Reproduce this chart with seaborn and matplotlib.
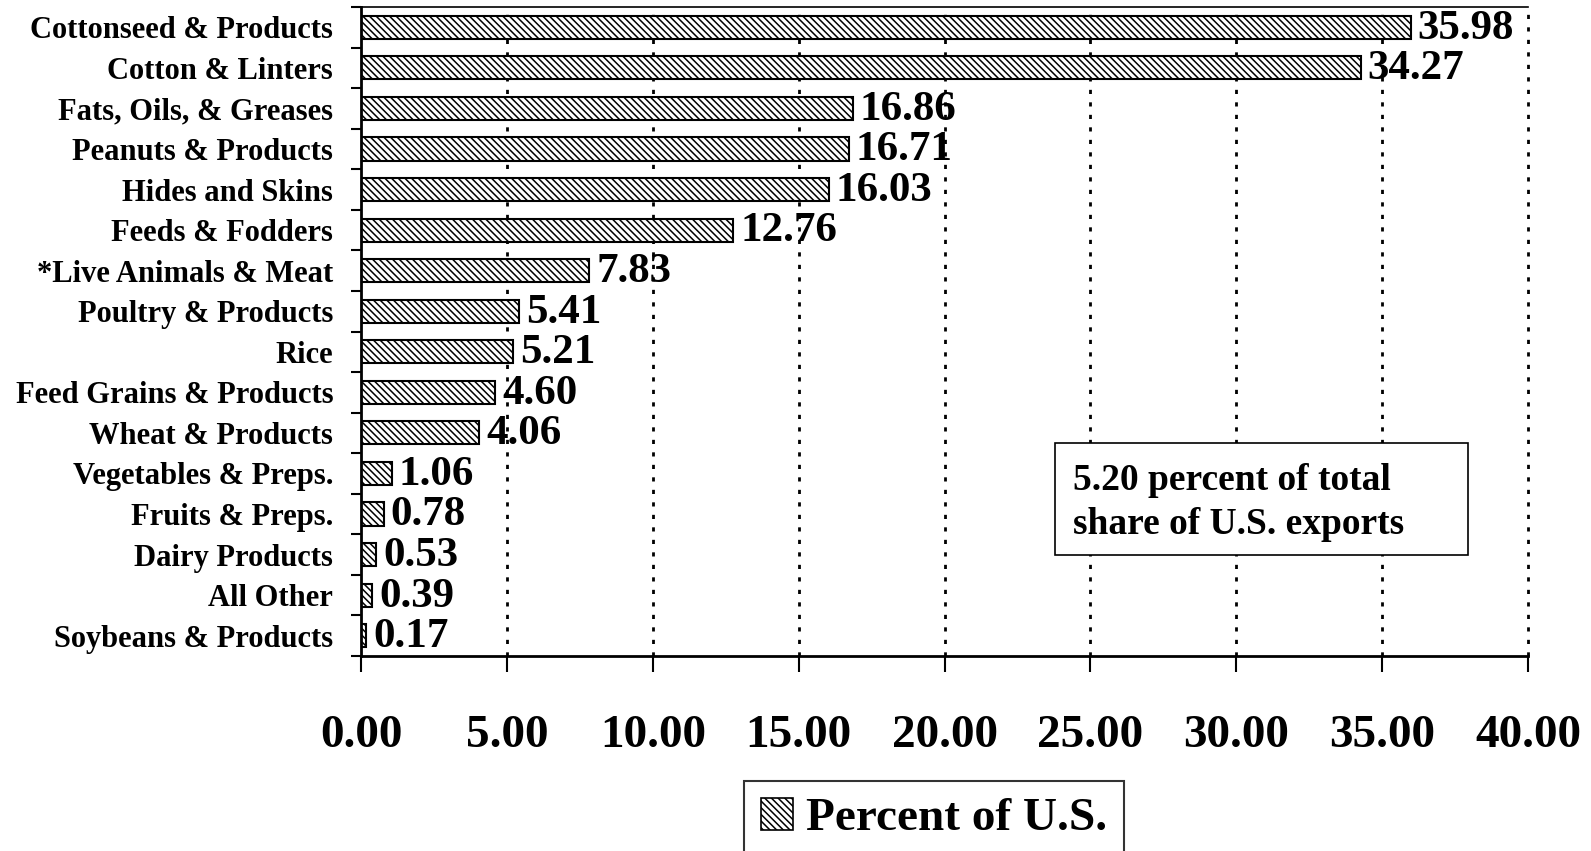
import matplotlib
matplotlib.use("Agg")
import matplotlib.pyplot as plt
import seaborn as sns
import pandas as pd
from matplotlib.patches import Patch, Rectangle
from matplotlib.ticker import FixedLocator

categories = ["Cottonseed & Products", "Cotton & Linters", "Fats, Oils, & Greases",
              "Peanuts & Products", "Hides and Skins", "Feeds & Fodders",
              "*Live Animals & Meat", "Poultry & Products", "Rice",
              "Feed Grains & Products", "Wheat & Products", "Vegetables & Preps.",
              "Fruits & Preps.", "Dairy Products", "All Other", "Soybeans & Products"]
values = [35.98, 34.27, 16.86, 16.71, 16.03, 12.76, 7.83, 5.41, 5.21,
          4.60, 4.06, 1.06, 0.78, 0.53, 0.39, 0.17]
xticks = [0, 5, 10, 15, 20, 25, 30, 35, 40]
series_name = "Percent of U.S."
note = "5.20 percent of total\nshare of U.S. exports"

sns.set_style("white")
plt.rcParams['font.family'] = ['Liberation Serif', 'DejaVu Serif']
plt.rcParams['font.weight'] = 'bold'
plt.rcParams['hatch.linewidth'] = 1.1
for k in ['text.color', 'axes.labelcolor', 'xtick.color', 'ytick.color', 'axes.edgecolor']:
    plt.rcParams[k] = 'black'

HATCH = '\\\\\\\\\\'

df = pd.DataFrame({"cat": categories, "val": values})

fig = plt.figure(figsize=(15.91, 8.51), dpi=100)
L, R, T, B = 361, 1528, 7, 656
ax = fig.add_axes([L/1591, 1-B/851, (R-L)/1591, (B-T)/851])

sns.barplot(data=df, x="val", y="cat", orient="h", color="white",
            edgecolor="black", linewidth=1.5, width=0.57, ax=ax, saturation=1)
for p in ax.patches:
    p.set_hatch(HATCH)
    p.set_edgecolor('black')
    p.set_facecolor('white')

ax.set_xlim(0, 40)
ax.set_ylim(len(categories) - 0.5, -0.5)
ax.set_xticks(xticks)
ax.set_xticklabels([f"{v:.2f}" for v in xticks], fontsize=34, fontweight='bold')
ax.tick_params(axis='x', direction='out', length=11.5, width=1.5, pad=31, bottom=True)
ax.set_yticks(range(len(categories)))
ax.set_yticklabels(categories, fontsize=22, fontweight='bold')
ax.tick_params(axis='y', which='major', length=0, pad=20)
ax.yaxis.set_minor_locator(FixedLocator([i + 0.5 for i in range(-1, len(categories))]))
ax.tick_params(axis='y', which='minor', direction='out', length=7.5, width=1.5, left=True)
ax.set_xlabel("")
ax.set_ylabel("")

for x in xticks[1:]:
    ax.axvline(x, color='black', linestyle=(0, (1.5, 3)), linewidth=2, zorder=0,
               clip_on=False)

for s in ['left', 'bottom', 'top']:
    ax.spines[s].set_visible(True)
    ax.spines[s].set_color('black')
    ax.spines[s].set_linewidth(2)
ax.spines['top'].set_linewidth(1.2)
ax.spines['right'].set_visible(False)

for i, v in enumerate(values):
    ax.annotate(f"{v:.2f}", xy=(v, i), xytext=(5, -1), textcoords='offset points',
                va='center', ha='left', fontsize=31, fontweight='bold',
                annotation_clip=False)

ax.add_patch(Rectangle((0.595, 0.156), 0.354, 0.172, transform=ax.transAxes,
                       facecolor='white', edgecolor='black', linewidth=1.2,
                       zorder=5, clip_on=False))
ax.text(0.610, 0.236, note, transform=ax.transAxes, fontsize=27, fontweight='bold',
        va='center', ha='left', linespacing=1.33, zorder=6)

handle = Patch(facecolor='white', edgecolor='black', hatch=HATCH, linewidth=1.2)
leg = fig.legend(handles=[handle], labels=[series_name], loc='upper left',
                 bbox_to_anchor=(744/1591, 1-781/851), frameon=True,
                 fancybox=False, edgecolor='black', handlelength=0.68, handleheight=0.68,
                 handletextpad=0.28, borderpad=0.35, borderaxespad=0,
                 prop={'weight': 'bold', 'size': 34})
leg.get_frame().set_linewidth(1.5)

fig.savefig("out.png", dpi=100)
